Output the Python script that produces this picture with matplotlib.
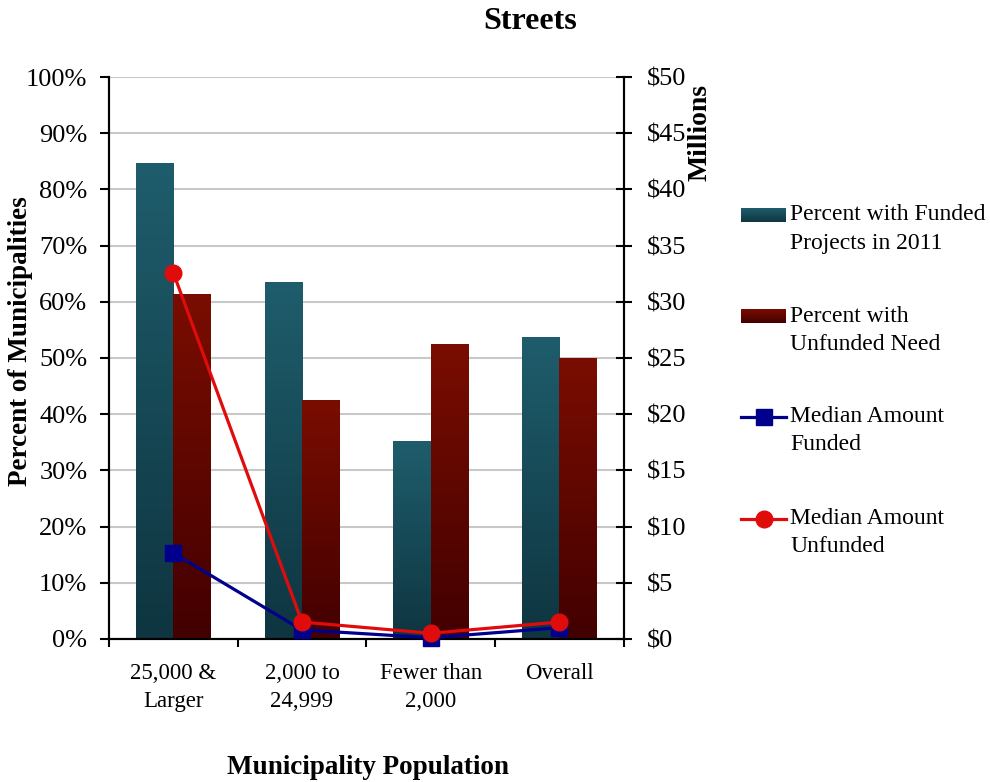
import numpy as np
import matplotlib

matplotlib.use("Agg")
import matplotlib.pyplot as plt
from matplotlib.colors import LinearSegmentedColormap
from matplotlib.lines import Line2D

# Данные.
categories = ["25,000 &\nLarger", "2,000 to\n24,999", "Fewer than\n2,000", "Overall"]
pct_funded = [84.7, 63.5, 35.1, 53.7]
pct_unfunded = [61.4, 42.5, 52.5, 50.0]
median_funded = [7.65, 0.8, 0.1, 1.0]
median_unfunded = [32.6, 1.5, 0.5, 1.5]
legend_labels = [
    "Percent with Funded\nProjects in 2011",
    "Percent with\nUnfunded Need",
    "Median Amount\nFunded",
    "Median Amount\nUnfunded",
]

TEAL_TOP, TEAL_BOT = "#1f5d6c", "#0e3540"
RED_TOP, RED_BOT = "#7a0d00", "#420000"
LINE_BLUE = "#00008c"
LINE_RED = "#e00c0c"

W_PX, H_PX = 990, 782

plt.rcParams["font.family"] = ["Liberation Serif", "DejaVu Serif"]

fig = plt.figure(figsize=(W_PX / 100, H_PX / 100), dpi=100)
ax = fig.add_axes([0.110, 0.183, 0.520, 0.7185])
ax2 = ax.twinx()

x = np.arange(len(categories))
w = 0.29
grad = np.linspace(0, 1, 256).reshape(-1, 1)


def gradient_cmap(top, bot):
    return LinearSegmentedColormap.from_list("g", [bot, top])


def gradient_bar(ax, x0, h, top, bot):
    """Столбик с вертикальным градиентом (сверху светлее)."""
    ax.imshow(grad, cmap=gradient_cmap(top, bot), origin="lower", aspect="auto",
              extent=(x0, x0 + w, 0, h), zorder=2, interpolation="bicubic")


for i in range(len(categories)):
    gradient_bar(ax, x[i] - w, pct_funded[i], TEAL_TOP, TEAL_BOT)
    gradient_bar(ax, x[i], pct_unfunded[i], RED_TOP, RED_BOT)

ax.set_xlim(-0.5, len(categories) - 0.5)
ax.set_ylim(0, 100)
ax.set_yticks(np.arange(0, 101, 10))
ax.set_yticklabels([f"{v}%" for v in range(0, 101, 10)], fontsize=19)
ax.yaxis.grid(True, color="#c8c8c8", linewidth=1.5, zorder=0)
ax.set_axisbelow(True)

ax.set_xticks(np.arange(-0.5, len(categories), 1.0))
ax.set_xticklabels([])
ax.set_xticks(x, minor=True)
ax.set_xticklabels(categories, minor=True, fontsize=16.5, linespacing=1.45)
ax.tick_params(axis="x", which="minor", length=0, pad=17.5)
ax.tick_params(axis="x", which="major", length=6, width=1.5, direction="out")
ax.tick_params(axis="y", length=6.5, width=1.5, direction="out", pad=9)

ax2.plot(x, median_funded, color=LINE_BLUE, lw=2.3, marker="s", ms=11,
         clip_on=False, zorder=4)
ax2.plot(x, median_unfunded, color=LINE_RED, lw=2.3, marker="o", ms=12,
         clip_on=False, zorder=5)
ax2.set_ylim(0, 50)
ax2.set_yticks(np.arange(0, 51, 5))
ax2.set_yticklabels([f"${v}" for v in range(0, 51, 5)], fontsize=19)
ax2.tick_params(axis="y", length=11.5, width=1.5, direction="inout", pad=11)

for a in (ax, ax2):
    a.spines["top"].set_visible(False)
    for s in ("left", "right", "bottom"):
        a.spines[s].set_linewidth(1.5)

fig.text(0.021, 0.564, "Percent of Municipalities", rotation=90, fontsize=19.5,
         fontweight="bold", ha="center", va="center")
fig.text(0.372, 0.019, "Municipality Population", fontsize=19.5, fontweight="bold",
         ha="center", va="center")
fig.text(0.707, 0.831, "Millions", rotation=90, fontsize=20, fontweight="bold",
         ha="center", va="center")
fig.text(0.535, 0.972, "Streets", fontsize=23, fontweight="bold", ha="center", va="center")


# Легенда справа: значок стоит на уровне первой строки подписи.
def fx(px):
    return px / W_PX


def fy(px):
    return 1 - px / H_PX


legend_rows = [215, 316, 417, 519]
hx0, hx1, tx = 741, 786, 790
for k, (row, label) in enumerate(zip(legend_rows, legend_labels)):
    if k < 2:
        top, bot = (TEAL_TOP, TEAL_BOT) if k == 0 else (RED_TOP, RED_BOT)
        hax = fig.add_axes([fx(hx0), fy(row + 7), fx(hx1) - fx(hx0), fy(row - 7) - fy(row + 7)])
        hax.imshow(grad, cmap=gradient_cmap(top, bot), origin="lower", aspect="auto",
                   interpolation="bicubic")
        hax.set_axis_off()
    else:
        color = LINE_BLUE if k == 2 else LINE_RED
        fig.add_artist(Line2D([fx(hx0), fx(hx1)], [fy(row), fy(row)], color=color,
                              lw=2.3, transform=fig.transFigure))
        fig.add_artist(Line2D([fx((hx0 + hx1) / 2)], [fy(row)], color=color,
                              marker="s" if k == 2 else "o", ms=11 if k == 2 else 12,
                              transform=fig.transFigure))
    for j, line in enumerate(label.split("\n")):
        fig.text(fx(tx), fy(row + 28 * j), line, fontsize=17, ha="left", va="center")

fig.savefig("out.png", dpi=100)
